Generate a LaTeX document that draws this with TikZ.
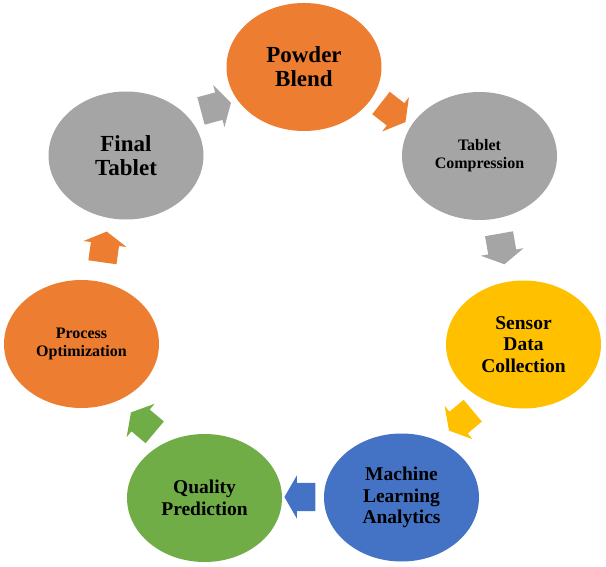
\documentclass[tikz,border=0pt]{standalone}
\usepackage{fontspec}
\setmainfont{Liberation Serif}
\usetikzlibrary{shapes.geometric,shapes.arrows}
\definecolor{cOrange}{HTML}{ED7D31}
\definecolor{cGray}{HTML}{A5A5A5}
\definecolor{cYellow}{HTML}{FFC000}
\definecolor{cBlue}{HTML}{4472C4}
\definecolor{cGreen}{HTML}{70AD47}
\tikzset{
  stage/.style={ellipse, draw=none, minimum width=155pt, minimum height=128pt,
    inner sep=0pt, align=center, text=black, font=\bfseries},
  big/.style={font=\fontsize{23}{24}\selectfont\bfseries},
  mid/.style={font=\fontsize{19.5}{21.5}\selectfont\bfseries},
  small/.style={font=\fontsize{16}{18}\selectfont\bfseries},
  blockarrow/.style={single arrow, draw=none, minimum height=31pt, minimum width=0pt,
    inner xsep=0pt, inner ysep=14pt, single arrow head extend=7.5pt,
    single arrow tip angle=120, single arrow head indent=0pt},
}
\begin{document}
\begin{tikzpicture}[x=1pt,y=-1pt]
\useasboundingbox (0,0) rectangle (606,567);
\node[stage, big, fill=cOrange] (pb) at (304,67) {Powder\\Blend};
\node[stage, small, fill=cGray] (tc) at (479.5,156) {Tablet\\Compression};
\node[stage, mid, fill=cYellow] (sd) at (523.5,344.5) {Sensor\\Data\\Collection};
\node[stage, mid, fill=cBlue] (ml) at (401.5,497.5) {Machine\\Learning\\Analytics};
\node[stage, mid, fill=cGreen] (qp) at (204.5,498) {Quality\\Prediction};
\node[stage, small, fill=cOrange] (po) at (81.5,344) {Process\\Optimization};
\node[stage, big, fill=cGray] (ft) at (126,155.5) {Final\\Tablet};

\node[blockarrow, fill=cGray, rotate=15] (a1) at (212,108) {};
\node[blockarrow, fill=cOrange, rotate=-38] (a2) at (390,110) {};
\node[blockarrow, fill=cGray, rotate=-80] (a3) at (501,245) {};
\node[blockarrow, fill=cYellow, rotate=-140] (a4) at (464,418) {};
\node[blockarrow, fill=cBlue, rotate=180] (a5) at (304,497) {};
\node[blockarrow, fill=cGreen, rotate=140] (a6) at (146,425) {};
\node[blockarrow, fill=cOrange, rotate=82] (a7) at (104,251) {};
\end{tikzpicture}
\end{document}
